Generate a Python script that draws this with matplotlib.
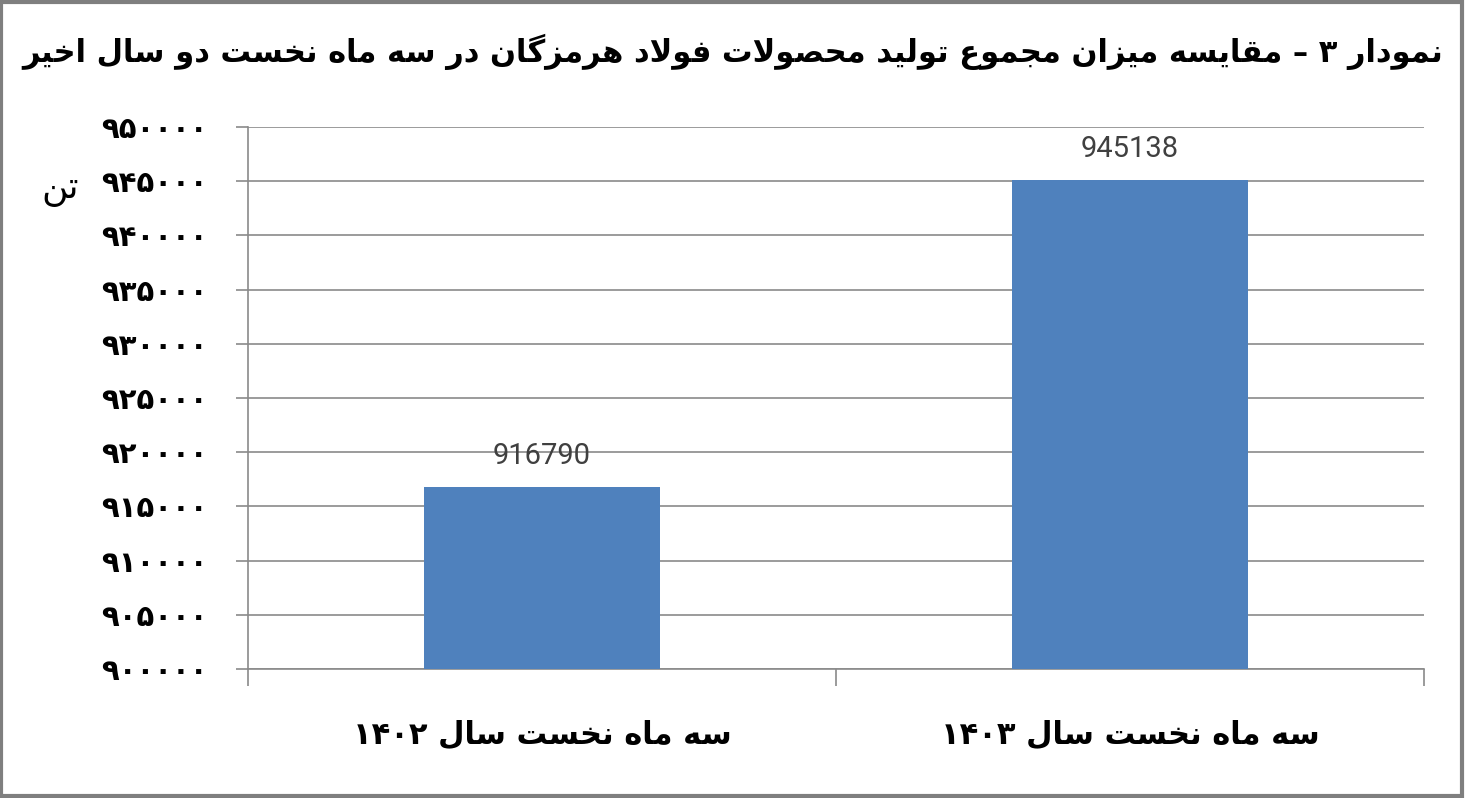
import re
import numpy as np
import matplotlib
matplotlib.use('Agg')
import matplotlib.pyplot as plt
from matplotlib.patches import Rectangle

# داده‌ها
categories = ['سه ماه نخست سال ۱۴۰۲', 'سه ماه نخست سال ۱۴۰۳']
values = [916790, 945138]
y_ticks = list(range(900000, 950001, 5000))
title = 'نمودار ۳ – مقایسه میزان مجموع تولید محصولات فولاد هرمزگان در سه ماه نخست دو سال اخیر'
unit = 'تن'

# شکل حروف: (تنها، پایانی، آغازی، میانی)
FORMS = {
    'ا': ('\uFE8D', '\uFE8E', None, None),
    'آ': ('\uFE81', '\uFE82', None, None),
    'ب': ('\uFE8F', '\uFE90', '\uFE91', '\uFE92'),
    'پ': ('\uFB56', '\uFB57', '\uFB58', '\uFB59'),
    'ت': ('\uFE95', '\uFE96', '\uFE97', '\uFE98'),
    'ث': ('\uFE99', '\uFE9A', '\uFE9B', '\uFE9C'),
    'ج': ('\uFE9D', '\uFE9E', '\uFE9F', '\uFEA0'),
    'چ': ('\uFB7A', '\uFB7B', '\uFB7C', '\uFB7D'),
    'ح': ('\uFEA1', '\uFEA2', '\uFEA3', '\uFEA4'),
    'خ': ('\uFEA5', '\uFEA6', '\uFEA7', '\uFEA8'),
    'د': ('\uFEA9', '\uFEAA', None, None),
    'ذ': ('\uFEAB', '\uFEAC', None, None),
    'ر': ('\uFEAD', '\uFEAE', None, None),
    'ز': ('\uFEAF', '\uFEB0', None, None),
    'ژ': ('\uFB8A', '\uFB8B', None, None),
    'س': ('\uFEB1', '\uFEB2', '\uFEB3', '\uFEB4'),
    'ش': ('\uFEB5', '\uFEB6', '\uFEB7', '\uFEB8'),
    'ص': ('\uFEB9', '\uFEBA', '\uFEBB', '\uFEBC'),
    'ض': ('\uFEBD', '\uFEBE', '\uFEBF', '\uFEC0'),
    'ط': ('\uFEC1', '\uFEC2', '\uFEC3', '\uFEC4'),
    'ظ': ('\uFEC5', '\uFEC6', '\uFEC7', '\uFEC8'),
    'ع': ('\uFEC9', '\uFECA', '\uFECB', '\uFECC'),
    'غ': ('\uFECD', '\uFECE', '\uFECF', '\uFED0'),
    'ف': ('\uFED1', '\uFED2', '\uFED3', '\uFED4'),
    'ق': ('\uFED5', '\uFED6', '\uFED7', '\uFED8'),
    'ک': ('\uFB8E', '\uFB8F', '\uFB90', '\uFB91'),
    'گ': ('\uFB92', '\uFB93', '\uFB94', '\uFB95'),
    'ل': ('\uFEDD', '\uFEDE', '\uFEDF', '\uFEE0'),
    'م': ('\uFEE1', '\uFEE2', '\uFEE3', '\uFEE4'),
    'ن': ('\uFEE5', '\uFEE6', '\uFEE7', '\uFEE8'),
    'و': ('\uFEED', '\uFEEE', None, None),
    'ه': ('\uFEE9', '\uFEEA', '\uFEEB', '\uFEEC'),
    'ی': ('\uFBFC', '\uFBFD', '\uFBFE', '\uFBFF'),
}


def fa(text):
    out = []
    i = 0
    n = len(text)
    while i < n:
        ch = text[i]
        if ch not in FORMS:
            out.append(ch)
            i += 1
            continue
        prev = text[i - 1] if i > 0 else ''
        nxt = text[i + 1] if i + 1 < n else ''
        join_prev = prev in FORMS and FORMS[prev][2] is not None
        if ch == 'ل' and nxt == 'ا':
            out.append('\uFEFC' if join_prev else '\uFEFB')
            i += 2
            continue
        join_next = nxt in FORMS and FORMS[ch][2] is not None
        iso, fin, ini, med = FORMS[ch]
        if join_prev and join_next:
            out.append(med)
        elif join_prev:
            out.append(fin)
        elif join_next:
            out.append(ini)
        else:
            out.append(iso)
        i += 1
    s = ''.join(out)[::-1]
    return re.sub(r'[۰-۹0-9]+', lambda m: m.group(0)[::-1], s)


def fa_num(v):
    return str(v).translate(str.maketrans('0123456789', '۰۱۲۳۴۵۶۷۸۹'))


grid_c = '#8a8a8a'

fig = plt.figure(figsize=(14.65, 7.98), dpi=100)
ax = fig.add_axes([248 / 1465, 1 - 669 / 798, (1424 - 248) / 1465, (669 - 127) / 798])

x = np.arange(len(values))
bars = ax.bar(x, values, width=0.4, color='#4F81BD', zorder=3)

ax.set_ylim(900000, 950000)
ax.set_xlim(-0.5, 1.5)
ax.set_yticks(y_ticks)
ax.set_yticklabels([fa_num(v) for v in y_ticks], fontfamily='DejaVu Sans',
                   fontweight='bold', fontsize=21)
ax.yaxis.grid(True, color=grid_c, linewidth=1.2, zorder=0)
ax.set_xticks(x)
ax.set_xticklabels([fa(c) for c in categories], fontfamily='DejaVu Sans',
                   fontweight='bold', fontsize=22)
ax.set_xticks([-0.5, 0.5, 1.5], minor=True)
ax.tick_params(axis='x', which='major', length=0, pad=37)
ax.tick_params(axis='x', which='minor', length=12, color=grid_c, width=1.2)
ax.tick_params(axis='y', length=9, color=grid_c, width=1.2, pad=20)

for s in ['top', 'right']:
    ax.spines[s].set_visible(False)
for s in ['left', 'bottom']:
    ax.spines[s].set_color(grid_c)
    ax.spines[s].set_linewidth(1.2)

for b, v in zip(bars, values):
    ax.annotate(str(v), (b.get_x() + b.get_width() / 2, v), xytext=(0, 12),
                textcoords='offset points', ha='center', va='bottom',
                fontsize=21, fontfamily='Roboto', color='#404040')

fig.text(0.5, 1 - 52 / 798, fa(title), ha='center', va='center',
         fontfamily='DejaVu Sans', fontweight='bold', fontsize=22)
fig.text(60 / 1465, 1 - 190 / 798, fa(unit), ha='center', va='center',
         fontfamily='DejaVu Sans', fontsize=26)

fig.patches.append(Rectangle((0.001, 0.002), 0.997, 0.995, transform=fig.transFigure,
                             fill=False, edgecolor='#7f7f7f', linewidth=3))

fig.savefig('out.png', dpi=100)
